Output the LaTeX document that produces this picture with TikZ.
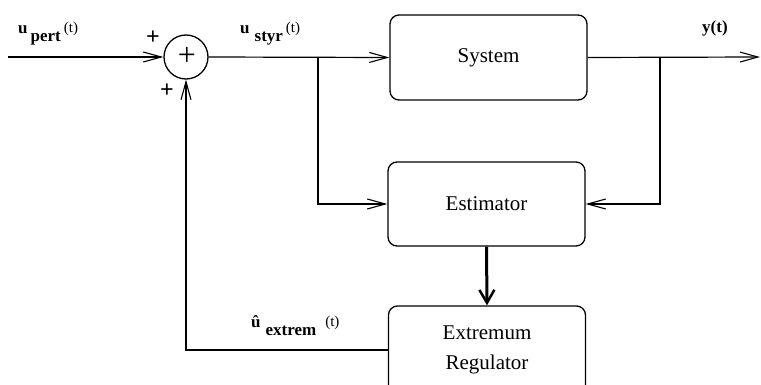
\documentclass[tikz,border=0pt]{standalone}
\usepackage{fontspec}
\setmainfont{Liberation Serif}
\usetikzlibrary{arrows.meta,calc}
\begin{document}
\begin{tikzpicture}[x=1pt,y=-1pt,
  blk/.style={draw,line width=1.3pt,rounded corners=9pt,minimum width=197pt,font=\fontsize{21}{30}\selectfont,align=center},
  sig/.style={line width=1.2pt,-{Straight Barb[length=18pt,width=10pt,line width=1.1pt]}},
  thick arrow/.style={line width=3pt,-{Straight Barb[length=13pt,width=15pt,line width=2.5pt]}},
  lbl/.style={font=\fontsize{17}{18}\selectfont\bfseries,inner sep=0pt},
  tsm/.style={},
  pm/.style={font=\fontsize{24}{24}\selectfont\bfseries,inner sep=0pt}]
\useasboundingbox (0,0) rectangle (761,385);
\clip (0,0) rectangle (761,385);
\fill[white] (0,0) rectangle (761,385);

\node[circle,draw,line width=1.3pt,minimum size=44pt,inner sep=0pt] (sum) at (186,57) {};
\node[font=\fontsize{32}{32}\selectfont,inner sep=0pt] (sumplus) at (187,56) {+};
\node[blk,minimum height=85pt] (sys) at (488.5,57.5) {System};
\node[blk,minimum height=84pt] (est) at (486.5,204) {Estimator};
\node[blk,minimum height=88pt] (ext) at (487,350) {Extremum\\Regulator};

\coordinate (in) at (8,57);
\coordinate (out) at (760,57);
\coordinate (b1) at (318,57);
\coordinate (b2) at (660,57);
\coordinate (fb) at (ext.west);

\draw[sig] (in) -- (sum.west);
\draw[sig] (sum.east) -- (sys.west);
\draw[sig] (sys.east) -- (out);
\draw[sig] (b1) |- (est.west);
\draw[sig] (b2) |- (est.east);
\draw[thick arrow] (est.south) -- (ext.north);
\draw[sig] (fb) -| (sum.south);

\node[lbl,anchor=base west] (lpert) at (18,34) {u\hspace{3pt}\raisebox{-8pt}{pert}\hspace{3pt}\raisebox{1pt}{\mdseries\fontsize{15}{15}\selectfont(t)}};
\node[lbl,anchor=base west] (lstyr) at (240,34) {u\hspace{5pt}\raisebox{-8pt}{styr}\hspace{3pt}\raisebox{1pt}{\mdseries\fontsize{15}{15}\selectfont(t)}};
\node[lbl,anchor=base west] (ly) at (702,33) {y(t)};
\node[lbl,anchor=base west] (lext) at (251,327) {\^u\hspace{5pt}\raisebox{-8pt}{extrem}\hspace{9pt}\raisebox{1pt}{\mdseries\fontsize{15}{15}\selectfont(t)}};
\node[pm] (p1) at (153,38) {+};
\node[pm] (p2) at (167,91) {+};
\end{tikzpicture}
\end{document}
